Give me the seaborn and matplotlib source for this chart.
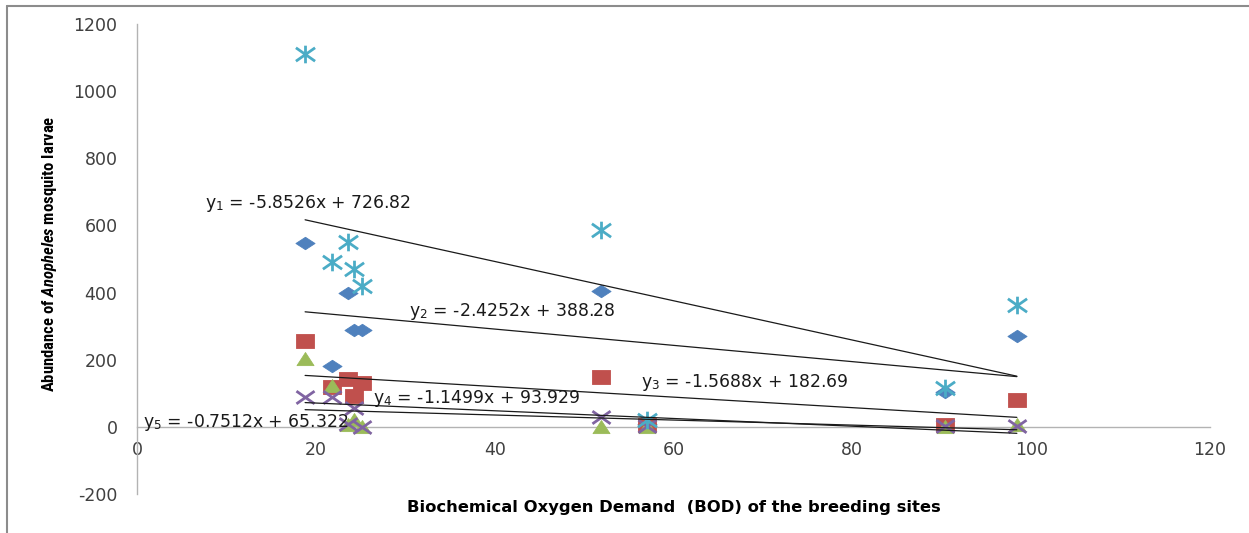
import numpy as np
import pandas as pd
import matplotlib
matplotlib.use("Agg")
import matplotlib.pyplot as plt
import seaborn as sns
from matplotlib.path import Path
from matplotlib.lines import Line2D
from matplotlib import font_manager as fm

# ---------------- data ----------------
bod = [18.8, 21.8, 23.6, 24.3, 25.2, 51.9, 57.0, 90.4, 98.4]
series_diamond = [548, 180, 398, 289, 288, 405, 10, 104, 271]
series_square = [257, 120, 142, 92, 130, 149, 7, 6, 80]
series_triangle = [201, 121, 5, 21, 0, 0, 0, 0, 5]
series_cross = [90, 90, 8, 56, 0, 30, 4, 2, 3]
series_total = [1110, 492, 552, 470, 420, 587, 19, 116, 363]

eq_slopes = [-5.8526, -2.4252, -1.5688, -1.1499, -0.7512]
eq_intercepts = [726.82, 388.28, 182.69, 93.929, 65.322]
eq_labels = [
    r"y$_\mathregular{1}$ = -5.8526x + 726.82",
    r"y$_\mathregular{2}$ = -2.4252x + 388.28",
    r"y$_\mathregular{3}$ = -1.5688x + 182.69",
    r"y$_\mathregular{4}$ = -1.1499x + 93.929",
    r"y$_\mathregular{5}$ = -0.7512x + 65.322",
]
x_ticks = [0, 20, 40, 60, 80, 100, 120]
y_ticks = [-200, 0, 200, 400, 600, 800, 1000, 1200]
x_title = "Biochemical Oxygen Demand  (BOD) of the breeding sites"
y_title = r"Abundance of $\mathit{Anopheles}$ mosquito larvae"

# ---------------- style ----------------
sns.set_style("white")
available = {f.name for f in fm.fontManager.ttflist}
narrow = "DejaVu Sans"
for cand in ["Liberation Sans Narrow", "DejaVu Sans Condensed", "Roboto Condensed",
             "Open Sans Condensed", "Liberation Sans"]:
    if cand in available:
        narrow = cand
        break
plt.rcParams["font.family"] = ["DejaVu Sans"]
plt.rcParams["mathtext.fontset"] = "custom"
plt.rcParams["mathtext.it"] = f"{narrow}:italic:bold"
plt.rcParams["mathtext.rm"] = f"{narrow}:bold"

W, H = 1249, 533
fig = plt.figure(figsize=(W / 100, H / 100), dpi=100)
fig.patch.set_facecolor("white")
ax = fig.add_axes([137 / W, 1 - 494 / H, 1073 / W, 470 / H])
ax.set_facecolor("white")

# markers (the reference is stretched horizontally)
diamond = Path([(-1, 0), (0, 0.65), (1, 0), (0, -0.65), (-1, 0)],
               [Path.MOVETO, Path.LINETO, Path.LINETO, Path.LINETO, Path.CLOSEPOLY])
square = Path([(-1, -0.7), (1, -0.7), (1, 0.7), (-1, 0.7), (-1, -0.7)],
              [Path.MOVETO, Path.LINETO, Path.LINETO, Path.LINETO, Path.CLOSEPOLY])
triangle = Path([(-1, -0.72), (1, -0.72), (0, 0.82), (-1, -0.72)],
                [Path.MOVETO, Path.LINETO, Path.LINETO, Path.CLOSEPOLY])
cross = Path([(-1, -0.7), (1, 0.7), (-1, 0.7), (1, -0.7)],
             [Path.MOVETO, Path.LINETO, Path.MOVETO, Path.LINETO])
star = Path([(-1, -0.7), (1, 0.7), (-1, 0.7), (1, -0.7), (0, -0.92), (0, 0.92)],
            [Path.MOVETO, Path.LINETO, Path.MOVETO, Path.LINETO, Path.MOVETO, Path.LINETO])

specs = [
    (series_diamond, diamond, "#4F81BD", 190, True),
    (series_square, square, "#C0504D", 185, True),
    (series_triangle, triangle, "#9BBB59", 150, True),
    (series_cross, cross, "#8064A2", 170, False),
    (series_total, star, "#4BACC6", 190, False),
]
for i, (vals, mk, col, s, filled) in enumerate(specs):
    df = pd.DataFrame({"bod": bod, "val": vals})
    sns.scatterplot(data=df, x="bod", y="val", marker=mk, s=s, color=col,
                    edgecolor=col, linewidth=(0.6 if filled else 2.0), ax=ax,
                    zorder=3 + i, legend=False)

# trend lines from the fitted equations, spanning the data range
xmin, xmax = min(bod), max(bod)
for m, b in zip(eq_slopes, eq_intercepts):
    tl = pd.DataFrame({"x": [xmin, xmax], "y": [m * xmin + b, m * xmax + b]})
    sns.lineplot(data=tl, x="x", y="y", color="#1a1a1a", linewidth=0.9, ax=ax,
                 zorder=10, legend=False)

# equation labels
eq_pos = [(7.6, 664), (30.4, 345), (56.4, 131), (26.4, 83), (0.7, 12)]
for (tx, ty), lab in zip(eq_pos, eq_labels):
    ax.text(tx, ty, lab, fontsize=12.4, color="#1a1a1a", ha="left", va="center",
            zorder=12)

# axes
ax.set_xlim(0, 120)
ax.set_ylim(-200, 1200)
ax.set_xticks(x_ticks)
ax.set_yticks(y_ticks)
ax.set_xticklabels([str(v) for v in x_ticks])
ax.set_yticklabels([str(v) for v in y_ticks])
for side in ["top", "right"]:
    ax.spines[side].set_visible(False)
ax.spines["bottom"].set_position(("data", 0))
for side in ["bottom", "left"]:
    ax.spines[side].set_color("#b3b3b3")
    ax.spines[side].set_linewidth(1.0)
ax.tick_params(axis="both", direction="out", length=4, width=1.0, color="#b3b3b3",
               labelcolor="#404040", labelsize=12.5)
ax.tick_params(axis="y", pad=10)
ax.tick_params(axis="x", pad=6)
ax.grid(False)

ax.set_xlabel(x_title, fontsize=11.8, fontweight="bold", color="black")
ax.xaxis.set_label_coords(0.5, -0.013)
ax.xaxis.label.set_va("top")
ax.set_ylabel(y_title, fontsize=12, fontweight="bold", color="black", family=narrow)
ax.yaxis.set_label_coords(-0.0725, 0.51)

# outer chart frame (top and left edges visible in the reference)
fig.add_artist(Line2D([7 / W, 1.0], [1 - 6 / H, 1 - 6 / H], transform=fig.transFigure,
                      color="#8c8c8c", linewidth=1.5))
fig.add_artist(Line2D([7 / W, 7 / W], [0.0, 1 - 6 / H], transform=fig.transFigure,
                      color="#8c8c8c", linewidth=1.5))

fig.savefig("out.png", dpi=100)
